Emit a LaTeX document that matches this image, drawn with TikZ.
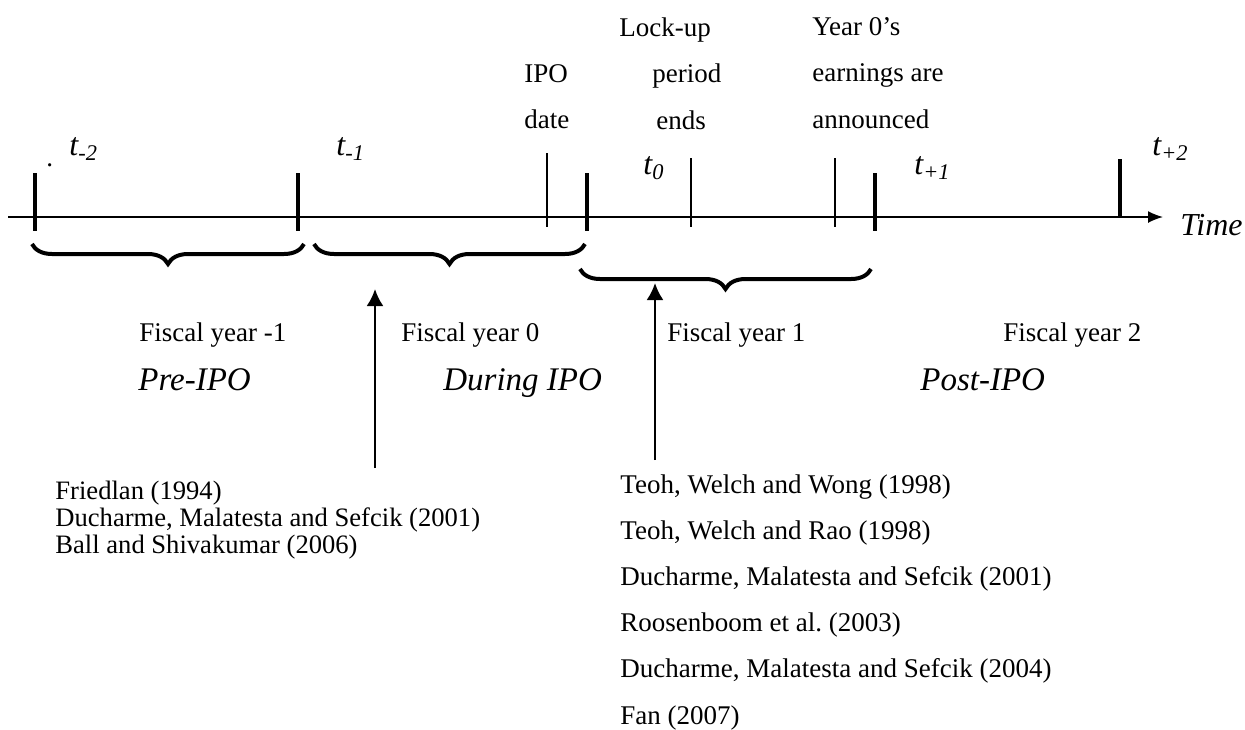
\documentclass[tikz,border=0pt]{standalone}
\usepackage{fontspec}
\setmainfont{Liberation Serif}
\usetikzlibrary{positioning,arrows.meta,decorations.pathreplacing}

\begin{document}
\begin{tikzpicture}[x=0.5pt,y=-0.5pt,>={Latex[length=7.5pt,width=6pt]},
                    every node/.style={inner sep=0pt, anchor=base west,
                                       font=\fontsize{13.5}{13.5}\selectfont},
                    era/.style={font=\fontsize{16.5}{16.5}\selectfont\itshape},
                    tmark/.style={font=\fontsize{16}{16}\selectfont\itshape},
                    event/.style={anchor=north west, align=left,
                                  font=\fontsize{13.5}{23.3}\selectfont},
                    yearbrace/.style={decorate, decoration={brace, mirror, amplitude=10pt},
                                      line width=2pt},
                    yeartick/.style={line width=2.3pt},
                    eventtick/.style={line width=0.8pt},
                    cite/.style={-{Latex[length=8.5pt,width=8.5pt]}, line width=1.2pt}]
\useasboundingbox (0,0) rectangle (1245,729);
% time axis
\coordinate (start) at (8,217);
\coordinate (stop) at (1163,217);
\draw[->, line width=0.8pt] (start) -- (stop);
\node[tmark] (time) at (1180,235) {Time};
\foreach \x in {35,298,587,875}
  \draw[yeartick] (\x,173) -- (\x,231);
\draw[yeartick, line width=1.7pt] (1120,159) -- (1120,217);
\draw[eventtick] (547,153) -- (547,227);
\foreach \x in {691,835}
  \draw[eventtick] (\x,158) -- (\x,227);
% period marks
\node (dot) at (46,166) {.};
\node[tmark] (tm2) at (69,155) {t\textsubscript{-2}};
\node[tmark] (tm1) at (336,155) {t\textsubscript{-1}};
\node[tmark] (t0) at (643,174) {t\textsubscript{0}};
\node[tmark] (tp1) at (914,174) {t\textsubscript{+1}};
\node[tmark] (tp2) at (1152,155) {t\textsubscript{+2}};
% events
\node[event] (ipo) at (524,64) {IPO\\date};
\node[event] (lockup) at (619,17) {Lock-up\\\hspace*{16.5pt}period\\\hspace*{18.5pt}ends};
\node[event] (announce) at (812,17) {Year 0's\\earnings are\\announced};
% fiscal years
\draw[yearbrace] (32,244) -- (304,244);
\draw[yearbrace] (314,244) -- (585,244);
\draw[yearbrace] (580,269) -- (871,269);
\node (fym1) at (139,341) {Fiscal year -1};
\node (fy0) at (401,341) {Fiscal year 0};
\node (fy1) at (667,341) {Fiscal year 1};
\node (fy2) at (1003,341) {Fiscal year 2};
\node[era] (pre) at (138,390) {Pre-IPO};
\node[era] (during) at (443,390) {During IPO};
\node[era] (post) at (920,390) {Post-IPO};
% studies
\node[event, font=\fontsize{13.3}{13.5}\selectfont] (early) at (55,481)
  {Friedlan (1994)\\Ducharme, Malatesta and Sefcik (2001)\\Ball and Shivakumar (2006)};
\node[event, font=\fontsize{13.5}{23.1}\selectfont] (late) at (620,474)
  {Teoh, Welch and Wong (1998)\\Teoh, Welch and Rao (1998)\\Ducharme, Malatesta and Sefcik (2001)\\
   Roosenboom et al.\ (2003)\\Ducharme, Malatesta and Sefcik (2004)\\Fan (2007)};
\coordinate (earlytail) at (375,468);
\coordinate (earlyhead) at (375,289);
\coordinate (latetail) at (655,460);
\coordinate (latehead) at (655,283);
\draw[cite] (earlytail) -- (earlyhead);
\draw[cite] (latetail) -- (latehead);
\end{tikzpicture}
\end{document}
